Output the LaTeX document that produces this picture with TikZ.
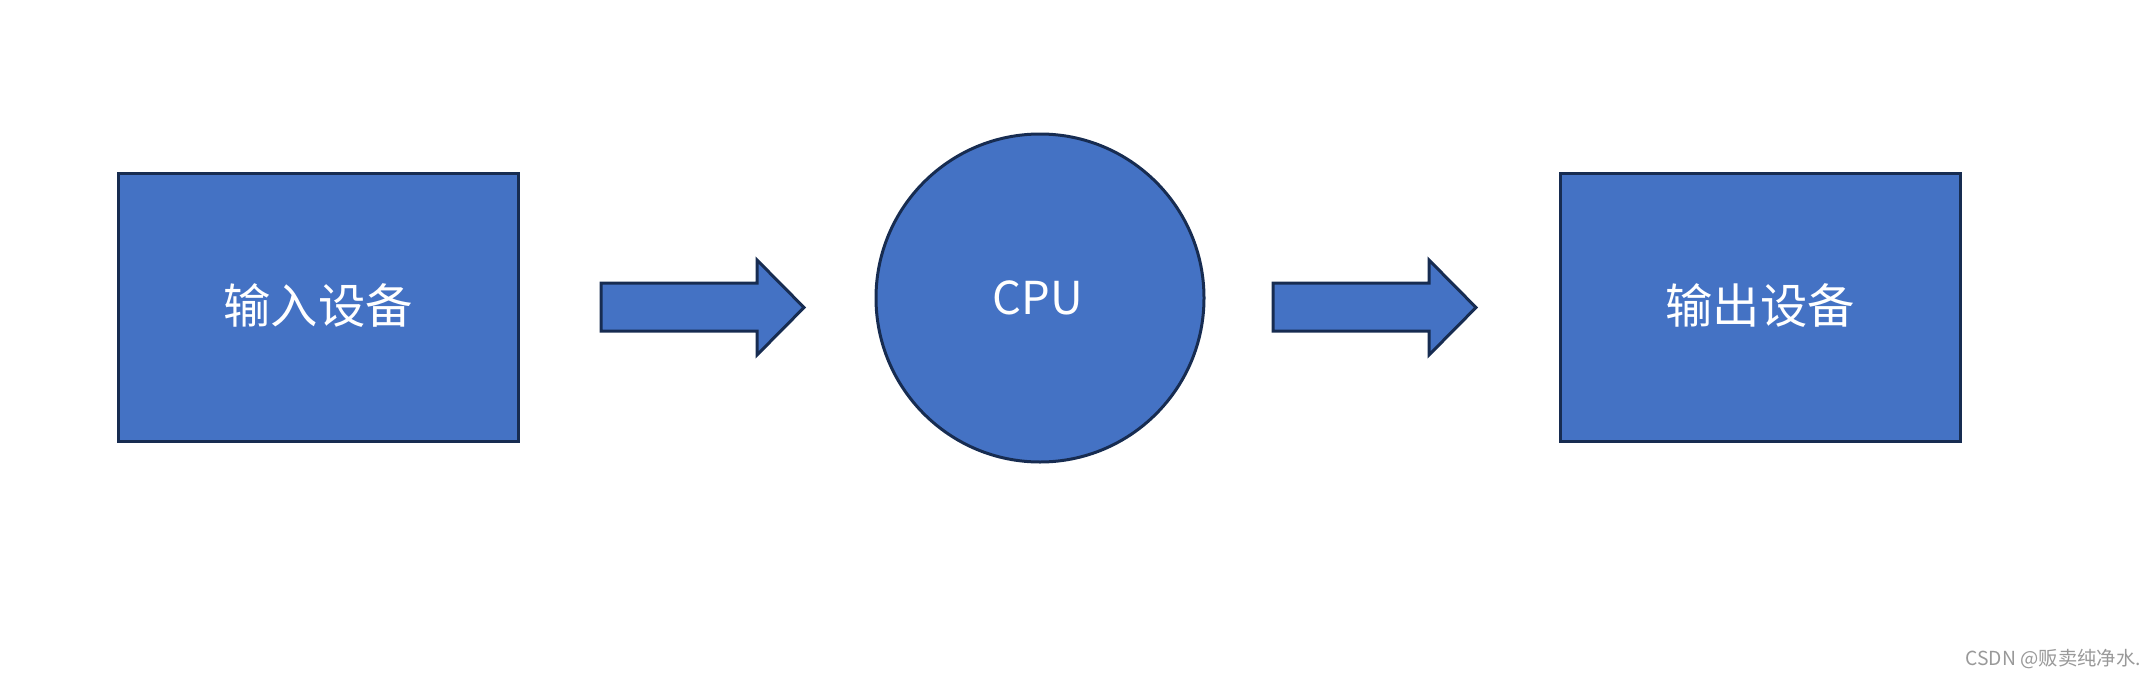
\documentclass[tikz,border=0pt]{standalone}
\usepackage{fontspec}
\setmainfont{Noto Sans CJK SC}
\newfontfamily\cjk{Noto Sans CJK SC}
\definecolor{fillblue}{HTML}{4472C4}
\definecolor{edgeblue}{HTML}{172C51}
\definecolor{wmgray}{HTML}{999999}
\begin{document}
\begin{tikzpicture}[x=0.75pt,y=-0.75pt,
  shapebox/.style={fill=fillblue,draw=edgeblue,line width=2.25pt},
  label/.style={text=white,font=\cjk\fontsize{35.5}{40}\selectfont}]
\useasboundingbox (0,0) rectangle (2155,678);
% boxes
\draw[shapebox] (118,173) rectangle (518,441);
\node[label] (in) at (318,306) {输入设备};
\draw[shapebox] (1560,173) rectangle (1960,441);
\node[label] (out) at (1760,306) {输出设备};
% circle
\draw[shapebox] (1040,298) circle (164);
\node[label,font=\cjk\fontsize{34}{40}\selectfont] (cpu) at (1038,298) {CPU};
% block arrows
\draw[shapebox,line join=miter] (601,283) -- (757,283) -- (757,260) -- (804,307.5) -- (757,355) -- (757,331) -- (601,331) -- cycle;
\draw[shapebox,line join=miter] (1273,283) -- (1429,283) -- (1429,260) -- (1476,307.5) -- (1429,355) -- (1429,331) -- (1273,331) -- cycle;
% watermark
\node[anchor=east,text=wmgray,font=\cjk\fontsize{14.5}{16}\selectfont,inner sep=0] (wm) at (2141,659) {CSDN @贩卖纯净水.};
\end{tikzpicture}
\end{document}
